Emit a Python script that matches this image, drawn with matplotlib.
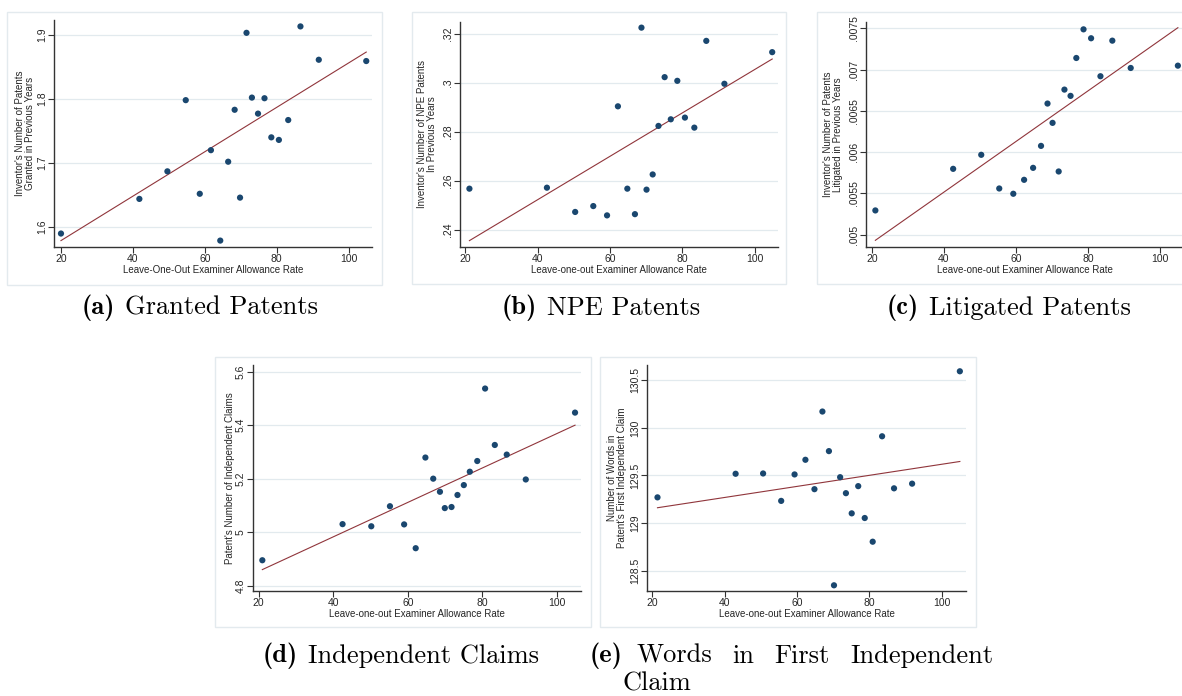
import matplotlib
matplotlib.use("Agg")
import matplotlib.pyplot as plt
from matplotlib.patches import Rectangle
import numpy as np

# binned leave-one-out examiner allowance rate (x) for each panel
x_a = [20.0, 41.8, 49.6, 54.7, 58.6, 61.7, 64.3, 66.5, 68.3, 69.8,
       71.6, 73.1, 74.8, 76.6, 78.5, 80.6, 83.2, 86.6, 91.7, 104.9]
y_a = [1.590, 1.644, 1.687, 1.798, 1.652, 1.720, 1.579, 1.702, 1.783, 1.646,
       1.903, 1.802, 1.777, 1.801, 1.740, 1.736, 1.767, 1.913, 1.861, 1.859]
fit_a = [1.579, 1.873]

x_b = [21.2, 42.6, 50.4, 55.4, 59.2, 62.2, 64.8, 66.9, 68.7, 70.1,
       71.8, 73.4, 75.1, 76.8, 78.6, 80.7, 83.3, 86.6, 91.6, 104.8]
y_b = [0.2567, 0.2571, 0.2472, 0.2496, 0.2458, 0.2903, 0.2567, 0.2463, 0.3224, 0.2563,
       0.2625, 0.2823, 0.3022, 0.2850, 0.3007, 0.2857, 0.2816, 0.3170, 0.2995, 0.3124]
fit_b = [0.2355, 0.3096]

x_c = [21.0, 42.6, 50.4, 55.4, 59.3, 62.3, 64.8, 67.0, 68.8, 70.2,
       71.9, 73.5, 75.2, 76.8, 78.8, 80.9, 83.5, 86.8, 91.9, 105.0]
y_c = [0.005294, 0.005798, 0.005968, 0.005560, 0.005496, 0.005665, 0.005810, 0.006076, 0.006589, 0.006355,
       0.005766, 0.006758, 0.006682, 0.007141, 0.007488, 0.007380, 0.006920, 0.007351, 0.007020, 0.007048]
fit_c = [0.004932, 0.007508]

x_d = [21.0, 42.5, 50.2, 55.2, 59.0, 62.1, 64.7, 66.8, 68.6, 69.9,
       71.7, 73.3, 75.0, 76.6, 78.6, 80.7, 83.3, 86.5, 91.6, 104.8]
y_d = [4.895, 5.030, 5.022, 5.097, 5.029, 4.940, 5.279, 5.200, 5.151, 5.090,
       5.094, 5.139, 5.176, 5.226, 5.266, 5.537, 5.326, 5.290, 5.197, 5.447]
fit_d = [4.860, 5.400]

x_e = [21.4, 43.0, 50.6, 55.6, 59.3, 62.3, 64.8, 67.0, 68.8, 70.2,
       71.9, 73.5, 75.1, 76.9, 78.7, 80.9, 83.5, 86.8, 91.8, 105.0]
y_e = [129.270, 129.518, 129.521, 129.233, 129.511, 129.665, 129.356, 130.172, 129.756, 128.346,
       129.482, 129.314, 129.102, 129.388, 129.053, 128.804, 129.912, 129.365, 129.414, 130.595]
fit_e = [129.161, 129.647]

xticks = [20, 40, 60, 80, 100]
yticks_a = [1.6, 1.7, 1.8, 1.9]
ylabels_a = ["1.6", "1.7", "1.8", "1.9"]
yticks_b = [0.24, 0.26, 0.28, 0.30, 0.32]
ylabels_b = [".24", ".26", ".28", ".3", ".32"]
yticks_c = [0.005, 0.0055, 0.006, 0.0065, 0.007, 0.0075]
ylabels_c = [".005", ".0055", ".006", ".0065", ".007", ".0075"]
yticks_d = [4.8, 5.0, 5.2, 5.4, 5.6]
ylabels_d = ["4.8", "5", "5.2", "5.4", "5.6"]
yticks_e = [128.5, 129, 129.5, 130, 130.5]
ylabels_e = ["128.5", "129", "129.5", "130", "130.5"]

W, H = 1182, 696
fig = plt.figure(figsize=(W / 100, H / 100), dpi=100)
fig.patch.set_facecolor("white")

TXT = "#262626"
DOT = "#1a476f"
FIT = "#90353b"
GRID = "#e2eaee"
BORDER = "#e3eaee"


def px_rect(l, t, r, b):
    return [l / W, 1 - b / H, (r - l) / W, (b - t) / H]


def border(l, t, r, b):
    fig.patches.append(Rectangle((l / W, 1 - b / H), (r - l) / W, (b - t) / H,
                                 transform=fig.transFigure, fill=False,
                                 edgecolor=BORDER, linewidth=1.0, zorder=0))


def panel(rect, x, y, fit, xlim, ylim, yticks, ylabels, xlabel, ylabel, yoff):
    ax = fig.add_axes(px_rect(*rect))
    ax.set_xlim(*xlim)
    ax.set_ylim(*ylim)
    for yt in yticks:
        ax.axhline(yt, color=GRID, lw=0.9, zorder=0)
    ax.plot([x[0], x[-1]], fit, color=FIT, lw=0.8, zorder=2)
    ax.scatter(x, y, s=20, color=DOT, edgecolors="none", zorder=3)
    ax.set_xticks(xticks)
    ax.set_xticklabels([str(v) for v in xticks], fontsize=7.5, color=TXT,
                       family="Liberation Sans")
    ax.set_yticks(yticks)
    ax.set_yticklabels(ylabels, fontsize=7.5, color=TXT, rotation=90,
                       va="center", family="Liberation Sans")
    ax.tick_params(length=4, width=0.8, color="#333333", pad=1)
    for s in ["top", "right"]:
        ax.spines[s].set_visible(False)
    for s in ["left", "bottom"]:
        ax.spines[s].set_color("#333333")
        ax.spines[s].set_linewidth(1.0)
    ax.set_xlabel(xlabel, fontsize=7, color=TXT, labelpad=1,
                  family="Liberation Sans")
    ax.set_ylabel(ylabel, fontsize=7, color=TXT,
                  family="Liberation Sans", linespacing=1.0)
    ax.yaxis.set_label_coords(-yoff / (rect[2] - rect[0]), 0.5)
    ax.patch.set_alpha(0)
    return ax


border(7, 12, 382, 285)
border(412, 12, 786, 284)
border(817, 12, 1194, 284)
border(215, 357, 591, 627)
border(600, 357, 976, 627)

panel((54, 20, 372, 247), x_a, y_a, fit_a, (18.06, 106.5), (1.569, 1.923),
      yticks_a, ylabels_a, "Leave-One-Out Examiner Allowance Rate",
      "Inventor's Number of Patents\nGranted in Previous Years", 19)
panel((460, 22, 778, 247), x_b, y_b, fit_b, (18.6, 106.4), (0.2329, 0.3247),
      yticks_b, ylabels_b, "Leave-one-out Examiner Allowance Rate",
      "Inventor's Number of NPE Patents\nIn Previous Years", 23)
panel((866, 22, 1184, 247), x_c, y_c, fit_c, (18.4, 106.7), (0.004851, 0.007577),
      yticks_c, ylabels_c, "Leave-one-out Examiner Allowance Rate",
      "Inventor's Number of Patents\nLitigated in Previous Years", 23)
panel((253, 365, 581, 591), x_d, y_d, fit_d, (18.5, 106.4), (4.780, 5.625),
      yticks_d, ylabels_d, "Leave-one-out Examiner Allowance Rate",
      "Patent's Number of Independent Claims", 18)
panel((647, 365, 966, 591), x_e, y_e, fit_e, (18.5, 106.7), (128.286, 130.661),
      yticks_e, ylabels_e, "Leave-one-out Examiner Allowance Rate",
      "Number of Words in\nPatent's First Independent Claim", 20)

# captions (bold label + roman text)
CAP = 19
renderer = fig.canvas.get_renderer()


def caption(xpx, ypx, label, text, gap=10):
    t = fig.text(xpx / W, 1 - ypx / H, label, family="cmb10", fontsize=CAP,
                 ha="left", va="center", color="black")
    bb = t.get_window_extent(renderer=renderer)
    if text:
        fig.text((bb.x1 + gap) / W, 1 - ypx / H, text, family="cmr10",
                 fontsize=CAP, ha="left", va="center", color="black")


caption(82, 308, "(a)", "Granted Patents")
caption(502, 308, "(b)", "NPE Patents")
caption(887, 308, "(c)", "Litigated Patents")
caption(263, 656, "(d)", "Independent Claims")
caption(590, 656, "(e)", "")

# justified first line of caption (e), from x=637 to x=993
words = ["Words", "in", "First", "Independent"]
texts = [fig.text(0, 1 - 656 / H, w, family="cmr10", fontsize=CAP,
                  ha="left", va="center", color="black") for w in words]
widths = [t.get_window_extent(renderer=renderer).width for t in texts]
space = (993 - 637 - sum(widths)) / (len(words) - 1)
xw = 637
for t, wd in zip(texts, widths):
    t.set_x(xw / W)
    xw += wd + space
fig.text(623 / W, 1 - 684 / H, "Claim", family="cmr10", fontsize=CAP,
         ha="left", va="center", color="black")

fig.savefig("out.png", dpi=100)
